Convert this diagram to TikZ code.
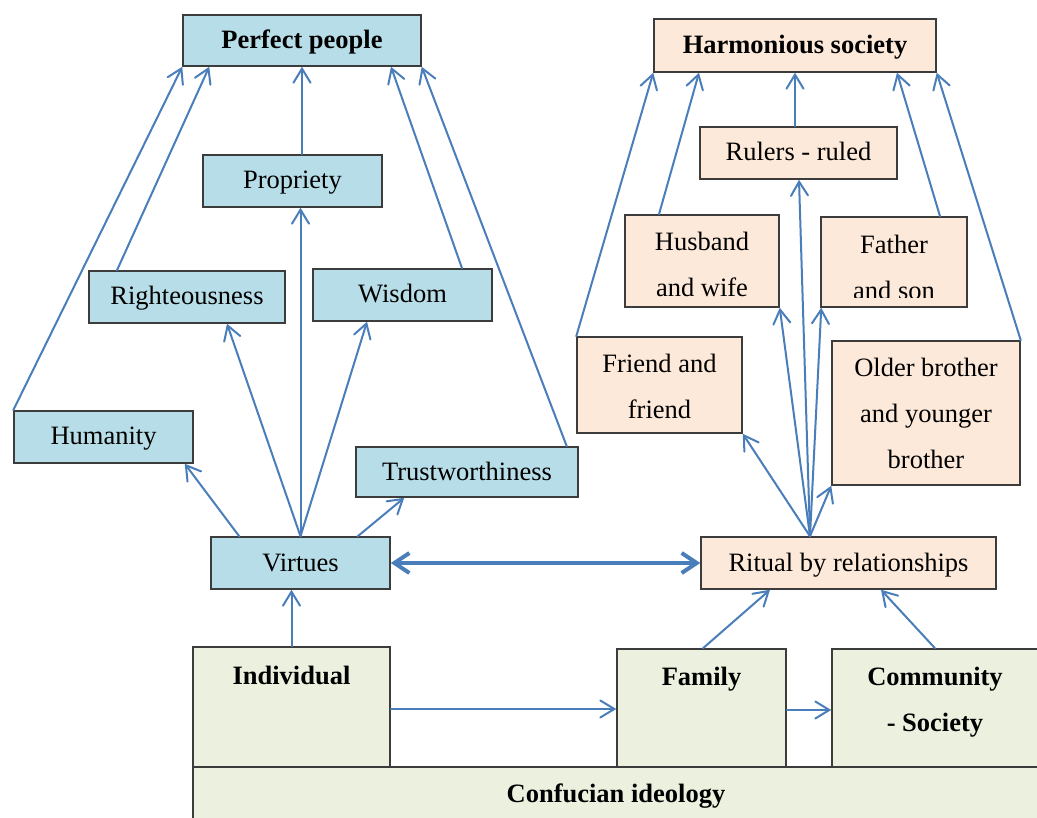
\documentclass[tikz,border=0pt]{standalone}
\usepackage{fontspec}
\setmainfont{Liberation Serif}
\usetikzlibrary{arrows.meta}
\definecolor{boxblue}{HTML}{B7DEE8}
\definecolor{boxpeach}{HTML}{FDE9D9}
\definecolor{boxgreen}{HTML}{EBF1DE}
\definecolor{edgegray}{HTML}{3C3C3C}
\definecolor{linkblue}{HTML}{4A7EBB}
\tikzset{
  txtfont/.style={font=\fontsize{26.5}{46}\selectfont},
  base/.style={draw=edgegray, line width=1.5pt, inner sep=0pt, align=center, txtfont},
  oneline/.style={text height=20pt, text depth=4pt},
  vbox/.style={base, fill=boxblue, oneline},
  rbox/.style={base, fill=boxpeach},
  gbox/.style={base, fill=boxgreen},
  txt/.style={inner sep=0pt, align=center, txtfont},
  boldtxt/.style={txt, font=\fontsize{26.5}{46}\selectfont\bfseries},
  link/.style={draw=linkblue, line width=2pt, line cap=round,
    -{Straight Barb[length=14pt,width=17pt,line cap=round]}},
  biglink/.style={draw=linkblue, line width=4pt,
    {Straight Barb[length=15pt,width=20pt]}-{Straight Barb[length=15pt,width=20pt]}},
}
\begin{document}
\begin{tikzpicture}[x=1pt,y=-1pt]
\clip (0,0) rectangle (1037,818);
\fill[white] (0,0) rectangle (1037,818);

% virtues (left)
\node[vbox, minimum width=238pt, minimum height=51pt] (pp) at (302,40.5) {\bfseries Perfect people};
\node[vbox, minimum width=179pt, minimum height=52pt] (prop) at (292.5,181) {Propriety};
\node[vbox, minimum width=196pt, minimum height=52pt] (right) at (187,297) {Righteousness};
\node[vbox, minimum width=179pt, minimum height=52pt] (wisd) at (402.5,295) {Wisdom};
\node[vbox, minimum width=179pt, minimum height=52pt] (human) at (103.5,437) {Humanity};
\node[vbox, minimum width=222pt, minimum height=50pt] (trust) at (467,472) {Trustworthiness};
\node[vbox, minimum width=179pt, minimum height=52pt] (virt) at (300.5,563) {Virtues};

% relationships (right)
\node[rbox, oneline, minimum width=282pt, minimum height=53pt] (hs) at (795,45.5) {\bfseries Harmonious society};
\node[rbox, oneline, minimum width=197pt, minimum height=52pt] (rulers) at (798.5,153) {Rulers - ruled};
\node[rbox, minimum width=154pt, minimum height=92pt] (husb) at (702,261) {};
\node[txt] (husbtext) at ([yshift=-3pt]husb.center) {Husband\\and wife};
\node[rbox, minimum width=146pt, minimum height=90pt] (fath) at (894,262) {};
\begin{scope}
  \clip (fath.north west) rectangle ([yshift=10pt]fath.south east);
  \node[txt] (fathtext) at ([yshift=-5pt]fath.center) {Father\\and son};
\end{scope}
\node[rbox, minimum width=165pt, minimum height=96pt] (friend) at (659.5,385) {};
\node[txt] (friendtext) at ([yshift=-1pt]friend.center) {Friend and\\friend};
\node[rbox, minimum width=188pt, minimum height=144pt] (older) at (926,413) {Older brother\\and younger\\brother};
\node[rbox, oneline, minimum width=295pt, minimum height=52pt] (ritual) at (848.5,563) {Ritual by relationships};

% foundation (bottom)
\node[gbox, minimum width=197pt, minimum height=120pt] (indiv) at (291.5,707) {};
\node[gbox, minimum width=169pt, minimum height=118pt] (fam) at (701.5,708) {};
\node[gbox, minimum width=216pt, minimum height=118pt] (comm) at (940,708) {};
\node[gbox, minimum width=860pt, minimum height=64pt] (conf) at (623,799) {};
\node[boldtxt] (indivtext) at ([yshift=-29pt]indiv.north) {Individual};
\node[boldtxt] (famtext) at ([yshift=-31pt]fam.north) {Family};
\node[boldtxt] (commtext) at (935,702) {Community\\- Society};
\node[boldtxt] (conftext) at (616,796.5) {Confucian ideology};

% virtues lead to perfect people
\draw[link] (human.north west) -- (pp.south west);
\draw[link] ([xshift=-70pt]right.north) -- ([xshift=27pt]pp.south west);
\draw[link] (pp.south |- prop.north) -- (pp.south);
\draw[link] ([xshift=59.5pt]wisd.north) -- ([xshift=89pt]pp.south);
\draw[link] ([xshift=-12pt]trust.north east) -- (pp.south east);

% virtues branch out
\draw[link] (virt.north) -- (virt.north |- prop.south);
\draw[link] (virt.north) -- ([xshift=40pt]right.south);
\draw[link] (virt.north) -- ([xshift=-35.5pt]wisd.south);
\draw[link] ([xshift=29pt]virt.north west) -- ([xshift=-9pt]human.south east);
\draw[link] ([xshift=-33pt]virt.north east) -- ([xshift=49pt]trust.south west);

% foundation links
\draw[link] (indiv.north) -- (indiv.north |- virt.south);
\draw[link] ([yshift=-2pt]indiv.east) -- ([yshift=-1pt]fam.west);
\draw[link] ([yshift=-2pt]fam.east) -- ([yshift=-2pt]comm.west);
\draw[link] ([xshift=1.5pt]fam.north) -- ([xshift=-78.5pt]ritual.south);
\draw[link] ([xshift=-5pt]comm.north) -- ([xshift=32.5pt]ritual.south);
\draw[biglink] (virt.east) -- (ritual.west);

% ritual branches out
\draw[link] ([xshift=-38.5pt]ritual.north) -- (friend.south east);
\draw[link] ([xshift=-38.5pt]ritual.north) -- (husb.south east);
\draw[link] ([xshift=-38.5pt]ritual.north) -- ([xshift=0.5pt]rulers.south);
\draw[link] ([xshift=-38.5pt]ritual.north) -- ([xshift=1pt]fath.south west);
\draw[link] ([xshift=-38.5pt]ritual.north) -- (older.south west);

% relationships lead to harmonious society
\draw[link] (friend.north west) -- (hs.south west);
\draw[link] ([xshift=-43pt]husb.north) -- ([xshift=-96pt]hs.south);
\draw[link] (hs.south |- rulers.north) -- (hs.south);
\draw[link] ([xshift=46pt]fath.north) -- ([xshift=102pt]hs.south);
\draw[link] (older.north east) -- (hs.south east);
\end{tikzpicture}
\end{document}
